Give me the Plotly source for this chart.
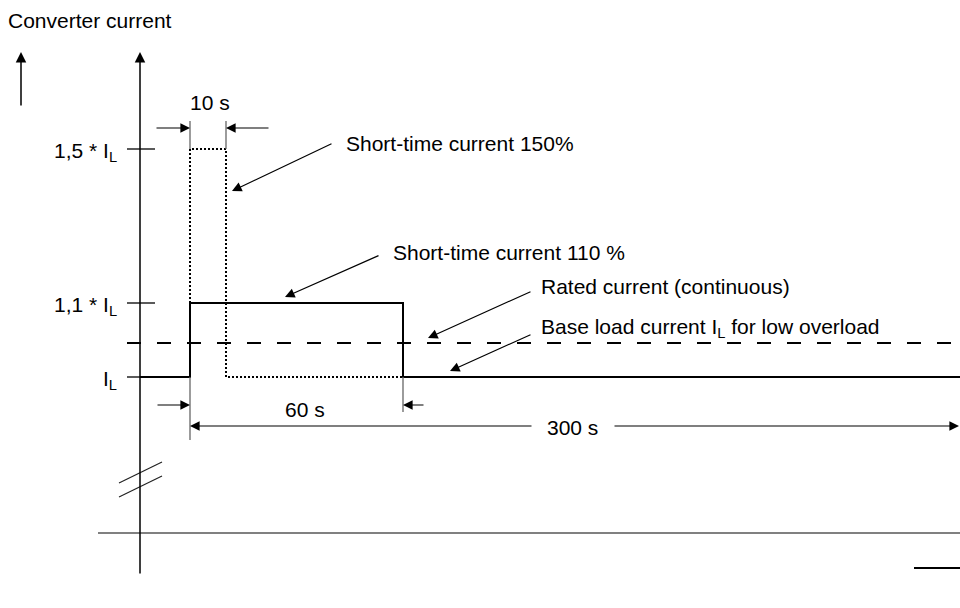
import plotly.graph_objects as go

# schematic drawing, coordinates are drawing units (1 unit = 1 px, y downwards)
level_labels = ["I<sub>L</sub>", "1,1 * I<sub>L</sub>", "1,5 * I<sub>L</sub>"]
level_y = [377, 303, 149]          # I_L, 1.1*I_L, 1.5*I_L
rated_y = 343                      # rated current (continuous)
time_labels = ["10 s", "60 s", "300 s"]
t_start, t_10s, t_60s, t_end = 190, 226, 403, 960
axis_x, axis_top, axis_bottom = 140, 52, 575
base_y = 533

FONT = dict(family="Liberation Sans, Arial, sans-serif", size=21, color="black")

fig = go.Figure()

def seg(xs, ys, color="black", width=2, dash="solid"):
    fig.add_trace(go.Scatter(x=xs, y=ys, mode="lines", hoverinfo="skip",
                             line=dict(color=color, width=width, dash=dash)))

i_l, i_11, i_15 = level_y

# load profile: 110 % for 60 s
seg([axis_x, t_start, t_start, t_60s, t_60s, t_end], [i_l, i_l, i_11, i_11, i_l, i_l])
# 150 % for 10 s (dotted)
seg([t_start, t_start, t_10s, t_10s, t_60s], [i_11, i_15, i_15, i_l, i_l], dash="2px,2px")
# rated current (dashed)
seg([127, t_end], [rated_y, rated_y], dash="14px,16px")

# tick marks on current axis
seg([127, 155], [i_15, i_15], width=1.3)
seg([127, 155], [i_11, i_11], width=1.3)
seg([127, axis_x], [i_l, i_l], width=1.3)

# extension lines for dimensions
seg([t_start, t_start], [121, i_15], color="#666666", width=1.3)
seg([t_10s, t_10s], [121, i_15], color="#666666", width=1.3)
seg([t_start, t_start], [i_l, 440], color="#666666", width=1.3)
seg([t_60s, t_60s], [i_l, 412], color="#666666", width=1.3)

# axis break marks
seg([119, 162], [483, 462], color="#222222", width=1.2)
seg([119, 162], [497, 476], color="#222222", width=1.2)

# base lines
seg([98, t_end], [base_y, base_y], color="#808080", width=2)
seg([914, t_end], [568, 568], width=2)

def arrow(x0, y0, x1, y1, width=1.2, size=1.6):
    fig.add_annotation(x=x1, y=y1, ax=x0, ay=y0, xref="x", yref="y", axref="x", ayref="y",
                       text="", showarrow=True, arrowhead=2, arrowsize=size,
                       arrowwidth=width, arrowcolor="black", standoff=0)

# vertical axis and legend arrow
arrow(axis_x, axis_bottom, axis_x, axis_top, width=1.5, size=1.4)
arrow(21, 107, 21, axis_top, width=1.5, size=1.4)

# dimension arrows
arrow(155, 128, t_start, 128)
arrow(270, 128, t_10s, 128)
arrow(156, 405, t_start, 405)
arrow(425, 405, t_60s, 405)
arrow(533, 426, t_start, 426)
arrow(613, 426, t_end - 1, 426)

# callout arrows
arrow(333, 143, 232, 191)
arrow(380, 255, 285, 297)
arrow(532, 291, 428, 338)
arrow(532, 334, 450, 371)

def label(x, y, text, anchor="left"):
    fig.add_annotation(x=x, y=y, xref="x", yref="y", text=text, showarrow=False,
                       xanchor=anchor, yanchor="middle", font=FONT)

label(6, 20, "Converter current")
for txt, y in zip(level_labels, level_y):
    label(119, y + 3, txt, anchor="right")
label(210, 102, time_labels[0], anchor="center")
label(305, 409, time_labels[1], anchor="center")
label(572, 427, time_labels[2], anchor="center")
label(344, 143, "Short-time current 150%")
label(391, 252, "Short-time current 110 %")
label(539, 286, "Rated current (continuous)")
label(539, 328, "Base load current I<sub>L</sub> for low overload")

fig.update_layout(
    width=960, height=608, margin=dict(l=0, r=0, t=0, b=0),
    paper_bgcolor="white", plot_bgcolor="white", showlegend=False,
    xaxis=dict(range=[0, 960], visible=False, fixedrange=True),
    yaxis=dict(range=[608, 0], visible=False, fixedrange=True),
)

fig.write_html("out.html", config={"displayModeBar": False},
               post_script="document.body.style.margin='0';document.body.style.overflow='hidden';")
